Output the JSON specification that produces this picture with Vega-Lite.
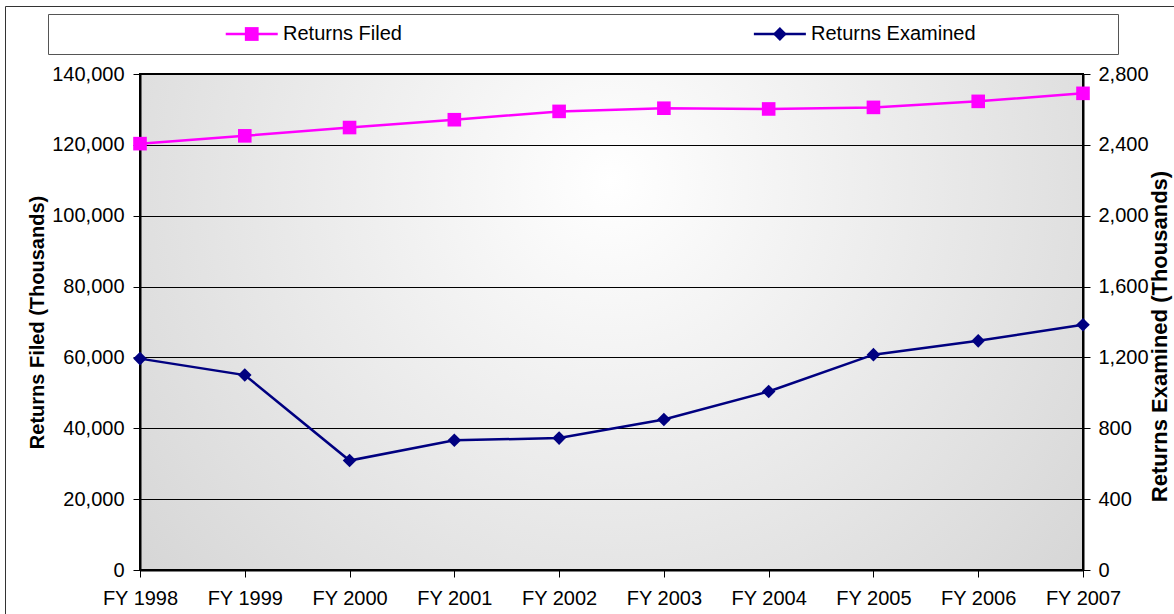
{
  "$schema": "https://vega.github.io/schema/vega-lite/v6.json",
  "background": "white",
  "padding": {"left": 5, "top": 6, "right": 0, "bottom": 0},
  "spacing": 20,
  "bounds": "flush",
  "config": {
    "font": "Liberation Sans",
    "axis": {"labelFont": "Liberation Sans", "titleFont": "Liberation Sans", "labelColor": "black", "titleColor": "black"}
  },
  "data": {
    "values": [
      {"year": "FY 1998", "Returns Filed": 120342, "Returns Examined": 1193.3},
      {"year": "FY 1999", "Returns Filed": 122547, "Returns Examined": 1100.4},
      {"year": "FY 2000", "Returns Filed": 124887, "Returns Examined": 617.8},
      {"year": "FY 2001", "Returns Filed": 127097, "Returns Examined": 732.5},
      {"year": "FY 2002", "Returns Filed": 129445, "Returns Examined": 744.7},
      {"year": "FY 2003", "Returns Filed": 130341, "Returns Examined": 849.3},
      {"year": "FY 2004", "Returns Filed": 130134, "Returns Examined": 1008.0},
      {"year": "FY 2005", "Returns Filed": 130577, "Returns Examined": 1215.6},
      {"year": "FY 2006", "Returns Filed": 132276, "Returns Examined": 1293.7},
      {"year": "FY 2007", "Returns Filed": 134543, "Returns Examined": 1384.6}
    ]
  },
  "vconcat": [
    {
      "width": 978,
      "height": 40,
      "view": {"stroke": null},
      "transform": [
        {"fold": ["Returns Filed", "Returns Examined"], "as": ["series", "value"]},
        {"aggregate": [{"op": "count", "as": "n"}], "groupby": ["series"]}
      ],
      "layer": [
        {
          "mark": {"type": "rule", "strokeWidth": 2.5, "xOffset": -26, "x2Offset": 26},
          "encoding": {
            "x": {"field": "series", "type": "nominal", "scale": {"type": "point", "domain": ["Returns Filed", "Returns Examined"], "range": [-92, 978], "padding": 0.513, "align": 0.376},
                  "axis": {"orient": "top", "domain": true, "domainColor": "#555555", "domainWidth": 1, "ticks": false, "labels": false, "grid": false, "title": null}},
            "x2": {"field": "series"},
            "y": {"datum": 0, "type": "quantitative", "scale": {"domain": [-1, 1], "range": [40, 0]},
                  "axis": {"orient": "left", "offset": 92, "domain": true, "domainColor": "#555555", "domainWidth": 1, "ticks": false, "labels": false, "grid": false, "title": null}},
            "color": {"field": "series", "type": "nominal", "scale": {"domain": ["Returns Filed", "Returns Examined"], "range": ["#FF00FF", "#000080"]}, "legend": null}
          }
        },
        {
          "mark": {"type": "point", "filled": true, "opacity": 1, "size": 190},
          "encoding": {
            "x": {"field": "series", "type": "nominal", "scale": {"type": "point", "domain": ["Returns Filed", "Returns Examined"], "range": [-92, 978], "padding": 0.513, "align": 0.376},
                  "axis": {"orient": "bottom", "domain": true, "domainColor": "#555555", "domainWidth": 1, "ticks": false, "labels": false, "grid": false, "title": null}},
            "y": {"datum": 0, "type": "quantitative", "scale": {"domain": [-1, 1], "range": [40, 0]},
                  "axis": {"orient": "right", "domain": true, "domainColor": "#555555", "domainWidth": 1, "ticks": false, "labels": false, "grid": false, "title": null}},
            "color": {"field": "series", "type": "nominal", "legend": null},
            "shape": {"field": "series", "type": "nominal", "scale": {"domain": ["Returns Filed", "Returns Examined"], "range": ["square", "diamond"]}, "legend": null}
          }
        },
        {
          "mark": {"type": "text", "align": "left", "baseline": "middle", "xOffset": 31, "fontSize": 20, "font": "Liberation Sans", "color": "black"},
          "encoding": {
            "x": {"field": "series", "type": "nominal", "scale": {"type": "point", "domain": ["Returns Filed", "Returns Examined"], "range": [-135, 1040], "padding": 0.6127, "align": 0.3818},
                  "axis": {"orient": "top", "offset": 8, "domain": true, "domainColor": "#333333", "domainWidth": 1, "ticks": false, "labels": false, "grid": false, "title": null}},
            "y": {"datum": 0, "type": "quantitative", "scale": {"domain": [-0.95402, 0.04598], "range": [601, -8], "nice": false, "zero": false},
                  "axis": {"orient": "left", "offset": 135, "domain": true, "domainColor": "#333333", "domainWidth": 1, "ticks": false, "labels": false, "grid": false, "title": null}},
            "text": {"field": "series"}
          }
        }
      ],
      "resolve": {"scale": {"x": "independent", "y": "independent"}, "axis": {"x": "independent", "y": "independent"}}
    },
    {
      "width": 943,
      "height": 496,
      "view": {
        "stroke": "black",
        "strokeWidth": 2,
        "fill": {"gradient": "radial", "x1": 0.5, "y1": 0.35, "r1": 0, "x2": 0.5, "y2": 0.35, "r2": 0.65,
                 "stops": [{"offset": 0, "color": "#ffffff"}, {"offset": 1, "color": "#d6d6d6"}]}
      },
      "encoding": {
        "x": {"field": "year", "type": "ordinal", "scale": {"type": "point", "padding": 0},
              "axis": {"title": null, "labelAngle": 0, "labelFontSize": 20, "tickSize": 7, "tickColor": "black", "labelPadding": 11, "domainColor": "black", "domainWidth": 2, "grid": false}}
      },
      "layer": [
        {
          "encoding": {
            "y": {"field": "Returns Filed", "type": "quantitative", "scale": {"domain": [0, 140000], "nice": false},
                  "axis": {"title": "Returns Filed (Thousands)", "values": [0, 20000, 40000, 60000, 80000, 100000, 120000, 140000], "format": ",.0f",
                           "labelFontSize": 20, "tickSize": 7, "tickColor": "black", "labelPadding": 9, "domainColor": "black", "domainWidth": 2,
                           "grid": true, "gridColor": "black", "gridWidth": 1, "gridOpacity": 1,
                           "titleFontSize": 20, "titleFontWeight": "bold", "titlePadding": 4}}
          },
          "layer": [
            {"mark": {"type": "line", "color": "#FF00FF", "strokeWidth": 2.5}},
            {"mark": {"type": "point", "shape": "square", "filled": true, "opacity": 1, "color": "#FF00FF", "size": 185}}
          ]
        },
        {
          "encoding": {
            "y": {"field": "Returns Examined", "type": "quantitative", "scale": {"domain": [0, 2800], "nice": false},
                  "axis": {"orient": "right", "title": "Returns Examined (Thousands)", "values": [0, 400, 800, 1200, 1600, 2000, 2400, 2800], "format": ",.0f",
                           "labelFontSize": 20, "tickSize": 7, "tickColor": "black", "labelPadding": 8, "domainColor": "black", "domainWidth": 2,
                           "grid": false, "titleFontSize": 22, "titleFontWeight": "bold", "titlePadding": 1, "titleAngle": 270, "titleBaseline": "top", "titleY": 262}}
          },
          "layer": [
            {"mark": {"type": "line", "color": "#000080", "strokeWidth": 2.5}},
            {"mark": {"type": "point", "shape": "diamond", "filled": true, "opacity": 1, "color": "#000080", "size": 185}}
          ]
        }
      ],
      "resolve": {"scale": {"y": "independent"}}
    }
  ]
}
